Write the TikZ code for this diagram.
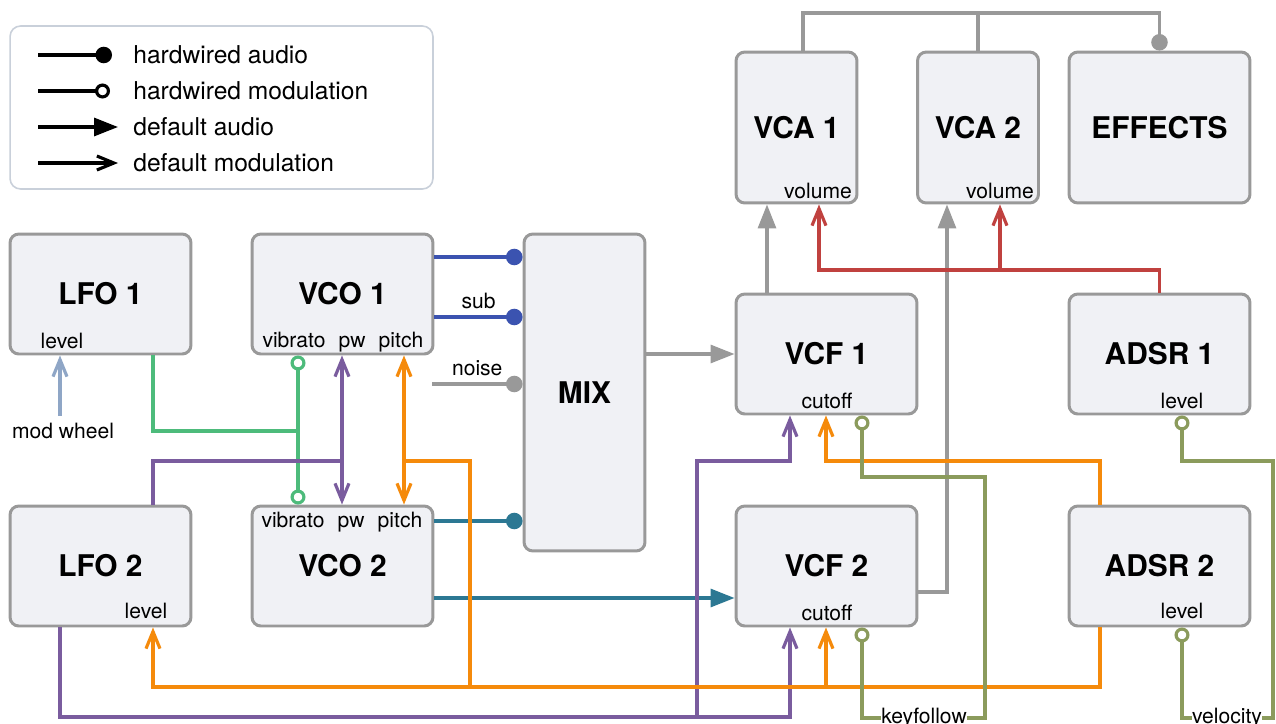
\documentclass[tikz,border=0pt]{standalone}
\usepackage{fontspec}
\setmainfont{TeX Gyre Heros}
\usetikzlibrary{arrows.meta,calc}
\definecolor{Frame}{HTML}{999999}
\definecolor{Panel}{HTML}{F0F1F5}
\definecolor{Key}{HTML}{C9D0DA}
\definecolor{Wire}{HTML}{999999}
\definecolor{Blue}{HTML}{3B53B0}
\definecolor{Teal}{HTML}{2C7893}
\definecolor{Green}{HTML}{4DBB7B}
\definecolor{Purple}{HTML}{7A5C9E}
\definecolor{Orange}{HTML}{F58A0B}
\definecolor{Red}{HTML}{C0413F}
\definecolor{Olive}{HTML}{8B9B5C}
\definecolor{Steel}{HTML}{8FA6C6}
\begin{document}
\begin{tikzpicture}[x=0.02cm,y=-0.02cm,
  module/.style={draw=Frame,fill=Panel,line width=1.7pt,rounded corners=5pt,minimum width=3.62cm,minimum height=2.4cm,font=\fontsize{17}{20}\selectfont\bfseries},
  tall/.style={module,minimum width=2.42cm,minimum height=3.02cm},
  port/.style={inner sep=0pt,anchor=base,font=\fontsize{12}{14}\selectfont},
  tag/.style={inner sep=0pt,text=black,font=\fontsize{12}{14}\selectfont},
  keytext/.style={inner sep=0pt,anchor=west,font=\fontsize{14}{16}\selectfont},
  cable/.style={line width=1.8pt},
  hwaudio/.style={cable,-{Circle[length=3.3mm]}},
  hwmod/.style={cable,-{Circle[open,length=3mm]}},
  audio/.style={cable,-{Triangle[length=4.8mm,width=3.6mm]}},
  mod/.style={cable,->},
  >={Straight Barb[length=3.4mm,width=2.8mm]}
]
\fill[white] (0,0) rectangle (1276,724);
\useasboundingbox (0,0) rectangle (1276,724);
% legend
\node[draw=Key,line width=0.9pt,rounded corners=6pt,minimum width=8.46cm,minimum height=3.26cm] (key) at (221.5,107.5) {};
\node[keytext] (keyA) at (133,55) {hardwired audio};
\node[keytext] (keyB) at (133,91) {hardwired modulation};
\node[keytext] (keyC) at (133,127) {default audio};
\node[keytext] (keyD) at (133,163) {default modulation};
\draw[hwaudio] (38,55) -- ([xshift=-0.42cm]keyA.west);
\draw[hwmod] (38,91) -- ([xshift=-0.46cm]keyB.west);
\draw[audio] (38,127) -- ([xshift=-0.3cm]keyC.west);
\draw[mod] (38,163) -- ([xshift=-0.3cm]keyD.west);
% modules
\node[module] (lfoA) at (100.5,294) {LFO 1};
\node[module] (vcoA) at (342.5,294) {VCO 1};
\node[module] (lfoB) at (100.5,566) {LFO 2};
\node[module] (vcoB) at (342.5,566) {VCO 2};
\node[module,minimum width=2.42cm,minimum height=6.34cm] (mixer) at (584.5,392.5) {MIX};
\node[tall] (vcaA) at (796.5,127.5) {VCA 1};
\node[tall] (vcaB) at (978,127.5) {VCA 2};
\node[module,minimum height=3.02cm] (fx) at (1159.5,127.5) {EFFECTS};
\node[module] (fltA) at (826.5,354) {VCF 1};
\node[module] (envA) at (1159.5,354) {ADSR 1};
\node[module] (fltB) at (826.5,566) {VCF 2};
\node[module] (envB) at (1159.5,566) {ADSR 2};
% ports
\node[port] (lfoAlvl) at (62,348) {level};
\node[port] (vcoAvib) at (294,347) {vibrato};
\node[port] (vcoApw) at (352,347) {pw};
\node[port] (vcoApit) at (401,347) {pitch};
\node[port] (vcoBvib) at (293,527) {vibrato};
\node[port] (vcoBpw) at (351,527) {pw};
\node[port] (vcoBpit) at (400,527) {pitch};
\node[port] (lfoBlvl) at (146,618) {level};
\node[port] (vcaAvol) at (818,198) {volume};
\node[port] (vcaBvol) at (1000,198) {volume};
\node[port] (fltAcut) at (827,408) {cutoff};
\node[port] (fltBcut) at (827,620) {cutoff};
\node[port] (envAlvl) at (1182,408) {level};
\node[port] (envBlvl) at (1182,618) {level};
\node[tag] (wheel) at (63,431) {mod wheel};
\node[tag] (keyfol) at (924,718) {keyfollow};
\node[tag] (veloc) at (1227,718) {velocity};
\coordinate (noisein) at (432,384);
% audio
\draw[hwaudio,Blue] (vcoA.east |- 0,257) -- (mixer.west |- 0,257);
\draw[hwaudio,Blue] (vcoA.east |- 0,317) -- node[tag,above=4pt]{sub} (mixer.west |- 0,317);
\draw[hwaudio,Wire] (noisein) -- node[tag,above=4pt]{noise} (mixer.west |- noisein);
\draw[hwaudio,Teal] (vcoB.east |- 0,521) -- (mixer.west |- 0,521);
\draw[audio,Teal] (vcoB.east |- 0,598) -- (fltB.west |- 0,598);
\draw[audio,Wire] (mixer.east |- fltA.west) -- (fltA.west);
\draw[audio,Wire] (fltA.north -| 767,0) -- (vcaA.south -| 767,0);
\draw[audio,Wire] (fltB.east |- 0,592) -| (vcaB.south -| 947,0);
\draw[hwaudio,Wire] (vcaA.north -| 803,0) |- (fx.north |- 0,13) -- (fx.north);
\draw[cable,Wire] (vcaB.north) -- (vcaB.north |- 0,13);
% modulation
\draw[mod,Steel,shorten <=1.4mm] (wheel.north -| 60,0) -- (lfoA.south -| 60,0);
\draw[cable,Green] (lfoA.south -| 153,0) |- (298,431);
\draw[cable,Green,{Circle[open,length=3mm]}-{Circle[open,length=3mm]}] (vcoA.south -| 298,0) -- (vcoB.north -| 298,0);
\draw[cable,Purple,<->] (vcoA.south -| 342,0) -- (vcoB.north -| 342,0);
\draw[cable,Purple] (lfoB.north -| 153,0) |- (342,461);
\draw[mod,Purple] (lfoB.south -| 60,0) |- (790,717) -- (fltB.south -| 790,0);
\draw[mod,Purple] (697,717) |- (790,461) -- (fltA.south -| 790,0);
\draw[cable,Orange,<->] (vcoA.south -| 404,0) -- (vcoB.north -| 404,0);
\draw[cable,Orange] (404,461) -| (470,687);
\draw[mod,Orange] (envB.north -| 1100,0) |- (826,461) -- (fltA.south -| 826,0);
\draw[mod,Orange] (envB.south -| 1100,0) |- (153,687) -- (lfoB.south -| 153,0);
\draw[mod,Orange] (826,687) -- (fltB.south -| 826,0);
\draw[mod,Red] (envA.north) |- (819,270) -- (vcaA.south -| 819,0);
\draw[mod,Red] (1000,270) -- (vcaB.south -| 1000,0);
\draw[hwmod,Olive] (keyfol.east) -| (985,477) -| (fltA.south -| 862,0);
\draw[hwmod,Olive] (keyfol.west) -| (fltB.south -| 862,0);
\draw[hwmod,Olive] (veloc.east) -| (1273,461) -| (envA.south -| 1182,0);
\draw[hwmod,Olive] (veloc.west) -| (envB.south -| 1182,0);
\end{tikzpicture}
\end{document}
